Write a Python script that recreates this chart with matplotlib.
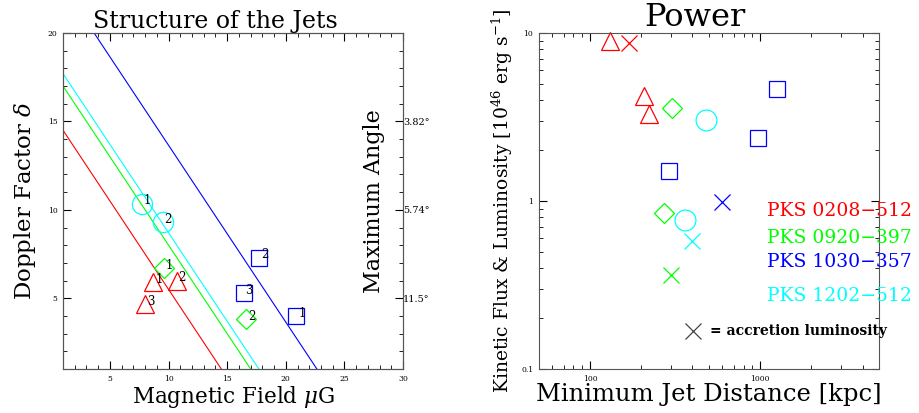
import numpy as np
import matplotlib.pyplot as plt
from matplotlib.ticker import MultipleLocator, FixedLocator, NullFormatter

# ---- left panel data: magnetic field (muG) vs Doppler factor
src_names = ["PKS 0208-512", "PKS 0920-397", "PKS 1030-357", "PKS 1202-512"]
src_colors = ["#ff0000", "#00ff00", "#0000ff", "#00ffff"]
src_markers = ["^", "D", "s", "o"]

field_b = [[8.7, 10.7, 8.0], [9.6, 16.6], [20.9, 17.7, 16.4], [7.7, 9.5]]
doppler = [[5.9, 6.0, 4.65], [6.7, 3.8], [4.0, 7.3, 5.3], [10.35, 9.3]]
knot_ids = [["1", "2", "3"], ["1", "2"], ["1", "2", "3"], ["1", "2"]]
# lines delta = c - B
line_c = [15.5, 18.0, 23.65, 18.7]

angle_ticks = [5, 10, 15]
angle_labels = ["11.5°", "5.74°", "3.82°"]

# ---- right panel data: jet distance (kpc) vs kinetic flux (1e46 erg/s)
dist = [[132, 209, 221], [303, 274], [1253, 978, 293], [481, 364]]
flux = [[9.0, 4.2, 3.31], [3.58, 0.85], [4.64, 2.36, 1.5], [3.05, 0.77]]
acc_dist = [170, 299, 600, 400]
acc_lum = [8.7, 0.364, 0.985, 0.575]

plt.rcParams["font.family"] = "DejaVu Serif"
plt.rcParams["mathtext.fontset"] = "dejavuserif"

fig = plt.figure(figsize=(9.19, 4.13), dpi=100)
ax1 = fig.add_axes([0.0686, 0.1065, 0.370, 0.8136])
ax2 = fig.add_axes([0.5862, 0.1065, 0.3703, 0.8136])

spine_col = "#555555"
left_ms = {"^": 13.5, "D": 10, "s": 11, "o": 14.5}
right_ms = {"^": 13.5, "D": 10, "s": 11.5, "o": 15}

# left panel
xs = np.linspace(1, 30, 200)
for i in range(4):
    ax1.plot(xs, line_c[i] - xs, color=src_colors[i], lw=0.8)
    ax1.plot(field_b[i], doppler[i], linestyle="none", marker=src_markers[i],
             ms=left_ms[src_markers[i]], mfc="none", mec=src_colors[i], mew=0.9)
    for b, d, k in zip(field_b[i], doppler[i], knot_ids[i]):
        ax1.annotate(k, (b, d), xytext=(4, 2), textcoords="offset points",
                     ha="center", va="center", fontsize=8.5, color="black")

ax1.set_xlim(1, 30)
ax1.set_ylim(1, 20)
ax1.xaxis.set_major_locator(FixedLocator([5, 10, 15, 20, 25, 30]))
ax1.yaxis.set_major_locator(FixedLocator([5, 10, 15, 20]))
ax1.xaxis.set_minor_locator(MultipleLocator(1))
ax1.yaxis.set_minor_locator(MultipleLocator(1))
ax1.tick_params(which="both", direction="in", top=True, right=False,
                labelsize=5.5, colors="black", pad=4)
ax1.tick_params(which="major", length=6)
ax1.tick_params(which="minor", length=3)
for s in ax1.spines.values():
    s.set_color(spine_col)

ax1.set_title("Structure of the Jets", fontsize=17, pad=3, x=0.447)
ax1.set_xlabel(r"Magnetic Field $\mu$G", fontsize=15.5, labelpad=1)
ax1.set_ylabel(r"Doppler Factor $\delta$", fontsize=16.5, labelpad=7)
ax1.text(0.915, 0.5, "Maximum Angle", transform=ax1.transAxes, rotation=90,
         ha="center", va="center", fontsize=16)

axr = ax1.twinx()
axr.set_ylim(1, 20)
axr.yaxis.set_major_locator(FixedLocator(angle_ticks))
axr.set_yticklabels(angle_labels)
axr.yaxis.set_minor_locator(MultipleLocator(1))
axr.tick_params(which="both", direction="in", labelsize=7, pad=0)
axr.tick_params(which="major", length=6)
axr.tick_params(which="minor", length=3)
for s in axr.spines.values():
    s.set_color(spine_col)

# right panel
for i in range(4):
    ax2.plot(dist[i], flux[i], linestyle="none", marker=src_markers[i],
             ms=right_ms[src_markers[i]], mfc="none", mec=src_colors[i], mew=0.9,
             clip_on=False)
    ax2.plot(acc_dist[i], acc_lum[i], linestyle="none", marker="x", ms=12,
             mec=src_colors[i], mew=0.9)

ax2.set_xscale("log")
ax2.set_yscale("log")
ax2.set_xlim(50, 5000)
ax2.set_ylim(0.1, 10)
ax2.set_xticks([100, 1000])
ax2.set_xticklabels(["100", "1000"])
ax2.set_yticks([0.1, 1, 10])
ax2.set_yticklabels(["0.1", "1", "10"])
ax2.xaxis.set_minor_formatter(NullFormatter())
ax2.yaxis.set_minor_formatter(NullFormatter())
ax2.tick_params(which="both", direction="in", top=True, right=True,
                labelsize=5.5, pad=4)
ax2.tick_params(which="major", length=6)
ax2.tick_params(which="minor", length=3)
for s in ax2.spines.values():
    s.set_color(spine_col)

ax2.set_title("Power", fontsize=23, pad=-2, x=0.459)
ax2.set_xlabel("Minimum Jet Distance [kpc]", fontsize=17.5, labelpad=0)
ax2.set_ylabel(r"Kinetic Flux & Luminosity [10$^{46}$ erg s$^{-1}$]",
               fontsize=13.5, labelpad=4)

leg_y = [0.47, 0.39, 0.318, 0.218]
for i in range(4):
    ax2.text(0.67, leg_y[i], src_names[i].replace("-", "\u2212"),
             transform=ax2.transAxes, color=src_colors[i], fontsize=13.5,
             ha="left", va="center", clip_on=False)
ax2.plot([0.452], [0.113], transform=ax2.transAxes, marker="x", ms=12,
         mec="#444444", mew=0.9, linestyle="none")
ax2.text(0.503, 0.113, "= accretion luminosity", transform=ax2.transAxes,
         fontsize=10, fontweight="bold", ha="left", va="center", clip_on=False)

fig.savefig("out.png", dpi=100)
